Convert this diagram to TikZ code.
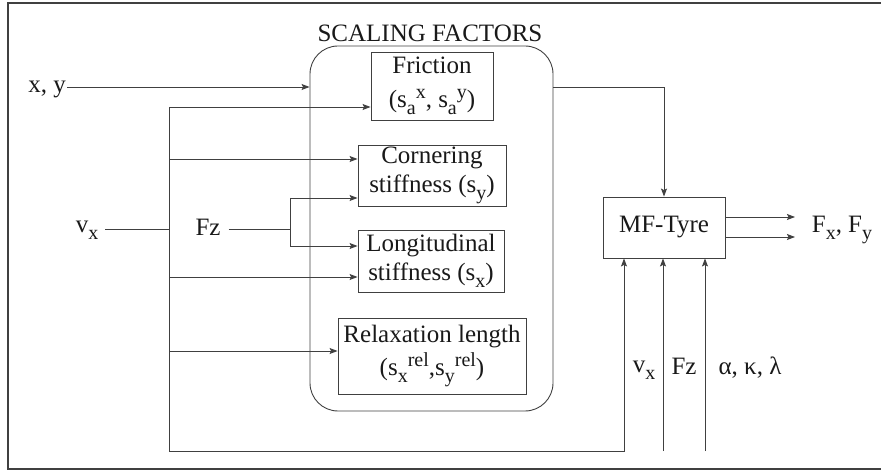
\documentclass[tikz,border=0pt]{standalone}
\usepackage{fontspec}
\setmainfont{Liberation Serif}
\newfontfamily\tnr{Liberation Serif}
\usetikzlibrary{arrows.meta}
\newcommand{\sbx}[1]{\raisebox{-7pt}{\fontsize{20}{20}\selectfont #1}}
\newcommand{\spx}[1]{\raisebox{9pt}{\fontsize{20}{20}\selectfont #1}}
\begin{document}
\begin{tikzpicture}[x=1pt,y=-1pt,
  every node/.style={font=\tnr\fontsize{25}{29}\selectfont, inner sep=0pt, text=black!90},
  blk/.style={draw=black!75, line width=0.9pt, align=center},
  wire/.style={line width=0.9pt, draw=black!75},
  arr/.style={wire, -{Stealth[length=8pt,width=6pt,inset=1.5pt]}}
]
\useasboundingbox (0,0) rectangle (881,470);
\draw[line width=1.3pt, black!75] (881,3) -- (8,3) -- (8,469) -- (881,469);

% container
\node[draw=black!75, line width=0.9pt, rounded corners=28pt, minimum width=243pt, minimum height=365pt] (cont) at (431.5,228.5) {};
\node (title) at (430,33) {SCALING FACTORS};

% blocks
\node[blk, minimum width=122pt, minimum height=68pt] (fric) at (432,86)
  {Friction\\[5pt](s\sbx{a}\spx{x}, s\sbx{a}\spx{y})};
\node[blk, minimum width=148pt, minimum height=61pt] (corn) at (432,175.5)
  {Cornering\\stiffness (s\sbx{y})};
\node[blk, minimum width=146pt, minimum height=62pt] (long) at (431,261)
  {Longitudinal\\stiffness (s\sbx{x})};
\node[blk, minimum width=188pt, minimum height=76pt] (relax) at (432,356)
  {Relaxation length\\[4pt](s\sbx{x}\spx{rel},s\sbx{y}\spx{rel})};
\node[blk, minimum width=122pt, minimum height=61pt] (mf) at (664,227.5) {MF-Tyre};

% left labels
\node[anchor=base east] (xy) at (66,93) {x, y};
\node[anchor=base] (vx) at (87,233) {v\sbx{x}};
\node[anchor=base] (fz) at (208,236) {Fz};

% x,y input and container output
\coordinate (xyo) at (67,87);
\draw[arr] (xyo) -- (xyo -| cont.west);
\draw[arr] (xyo -| cont.east) -| (mf.north);

% vx bus
\coordinate (btop) at (169,107);
\coordinate (bvx) at (169,229);
\coordinate (b2) at (169,159);
\coordinate (b3) at (169,277);
\coordinate (b4) at (169,351);
\coordinate (bbot) at (169,451);
\coordinate (m1) at (624,451);
\draw[wire] (vx.east |- bvx) ++(7,0) -- (bvx);
\draw[wire] (btop) -- (bbot);
\draw[arr] (btop) -- (btop -| fric.west);
\draw[arr] (b2) -- (b2 -| corn.west);
\draw[arr] (b3) -- (b3 -| long.west);
\draw[arr] (b4) -- (b4 -| relax.west);
\draw[arr] (bbot) -- (m1) -- (m1 |- mf.south);

% Fz
\coordinate (fzj) at (290,229);
\coordinate (fz1) at (290,198);
\coordinate (fz2) at (290,246);
\draw[wire] (fz.east |- fzj) ++(8,0) -- (fzj);
\draw[wire] (fz1) -- (fz2);
\draw[arr] (fz1) -- (fz1 -| corn.west);
\draw[arr] (fz2) -- (fz2 -| long.west);

% bottom inputs
\coordinate (i2) at (663,451);
\coordinate (i3) at (705,451);
\draw[arr] (i2) -- (i2 |- mf.south);
\draw[arr] (i3) -- (i3 |- mf.south);
\node[anchor=base] (lvx) at (644,372) {v\sbx{x}};
\node[anchor=base] (lfz) at (684,374) {Fz};
\node[anchor=base] (lak) at (750,374) {α, κ, λ};

% outputs
\coordinate (o1) at (795,217);
\coordinate (o2) at (795,237);
\draw[arr] (o1 -| mf.east) -- (o1);
\draw[arr] (o2 -| mf.east) -- (o2);
\node[anchor=base] (fout) at (842,233) {F\sbx{x}, F\sbx{y}};
\end{tikzpicture}
\end{document}
